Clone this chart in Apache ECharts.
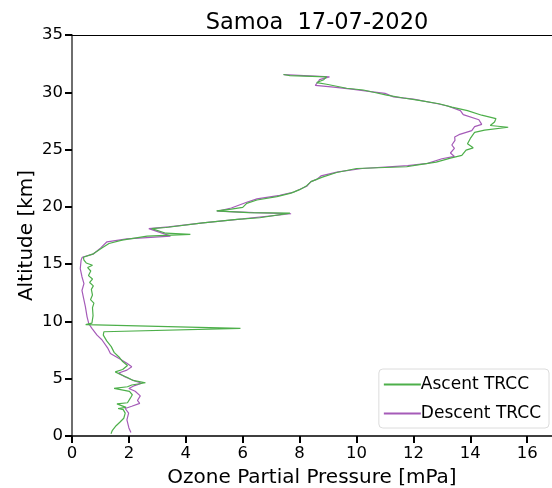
<!DOCTYPE html>
<html><head><meta charset="utf-8">
<script src="https://cdn.jsdelivr.net/npm/echarts@6/dist/echarts.min.js"></script>
<style>html,body{margin:0;padding:0;background:#fff}#c{width:552px;height:488px}</style>
</head><body><div id="c"></div>
<script>
var titleText = 'Samoa  17-07-2020';
var xTicks = [0, 2, 4, 6, 8, 10, 12, 14, 16];
var yTicks = [0, 5, 10, 15, 20, 25, 30, 35];
var seriesNames = ['Ascent TRCC', 'Descent TRCC'];

var ascentOzone = [1.37,1.42,1.55,1.68,1.82,1.87,1.80,1.62,1.90,1.58,1.95,2.05,2.12,2.02,1.48,1.95,2.10,2.58,2.15,1.95,1.72,1.52,1.78,1.95,1.78,1.65,1.48,1.38,1.22,1.10,1.12,5.92,0.48,0.70,0.74,0.72,0.77,0.65,0.72,0.68,0.75,0.62,0.72,0.58,0.66,0.55,0.72,0.50,0.42,0.40,0.75,1.05,1.30,1.76,2.64,4.16,3.30,2.80,3.30,4.60,5.80,6.60,7.66,6.20,5.08,5.60,6.00,6.14,6.50,7.20,7.70,8.00,8.25,8.40,8.80,9.30,10.00,11.76,12.10,12.80,13.30,13.70,13.85,14.10,13.90,14.00,14.15,14.50,15.33,14.70,14.85,14.90,14.40,13.90,13.35,12.90,12.20,11.65,11.06,10.60,10.24,9.65,8.95,8.60,8.85,8.95,7.66,7.43];
var ascentAltitude = [0.2,0.5,0.9,1.2,1.55,2.0,2.3,2.4,2.5,2.8,2.9,3.3,3.6,3.9,4.15,4.3,4.45,4.65,4.85,5.1,5.35,5.6,5.8,6.15,6.5,6.9,7.3,7.8,8.3,8.8,9.1,9.4,9.72,9.85,10.5,11.2,11.6,11.9,12.3,12.8,13.1,13.4,13.7,14.0,14.4,14.7,14.9,15.1,15.35,15.6,15.9,16.4,16.8,17.1,17.45,17.6,17.7,18.1,18.2,18.6,18.9,19.05,19.45,19.5,19.65,19.8,19.95,20.3,20.6,20.9,21.2,21.5,21.85,22.2,22.6,23.0,23.35,23.5,23.65,23.9,24.25,24.5,24.95,25.15,25.5,25.97,26.5,26.7,26.95,27.1,27.4,27.7,28.0,28.4,28.7,29.0,29.3,29.5,29.75,30.0,30.2,30.35,30.7,30.85,31.1,31.35,31.45,31.55];

var descentOzone = [2.07,2.00,1.93,1.99,1.87,2.10,2.38,2.30,2.40,2.22,2.00,2.20,2.46,2.20,1.87,1.64,1.93,2.10,1.93,1.70,1.35,1.25,1.05,0.88,0.70,0.59,0.53,0.47,0.41,0.35,0.42,0.35,0.29,0.32,0.36,0.76,1.00,1.23,1.93,3.46,3.35,2.70,3.40,4.60,6.00,7.70,6.40,5.10,5.60,6.14,6.50,7.30,7.80,8.25,8.40,8.60,8.75,9.35,10.20,11.80,12.50,13.00,13.44,13.30,13.44,13.35,13.46,13.45,13.60,14.05,14.15,14.40,14.30,13.75,13.65,13.20,12.85,12.00,11.30,11.00,10.50,9.90,9.20,8.55,8.65,8.70,9.05,7.44];
var descentAltitude = [0.3,0.7,1.4,2.0,2.4,2.6,2.85,3.1,3.5,3.9,4.15,4.4,4.6,4.8,5.15,5.5,5.75,6.05,6.35,6.7,7.2,7.7,8.4,8.8,9.4,9.8,10.4,11.3,12.0,12.7,13.3,13.9,14.6,15.35,15.6,15.9,16.4,16.95,17.2,17.45,17.55,18.1,18.25,18.6,18.95,19.4,19.5,19.62,19.9,20.4,20.7,21.0,21.3,21.8,22.2,22.4,22.7,23.05,23.35,23.6,23.8,24.2,24.4,24.7,25.1,25.4,25.8,26.1,26.3,26.65,27.0,27.2,27.6,28.05,28.4,28.8,29.0,29.4,29.6,29.9,30.05,30.25,30.45,30.6,30.9,31.1,31.35,31.55];

function pairs(xs, ys) { return xs.map(function (v, i) { return [v, ys[i]]; }); }

var FONT = 'DejaVu Sans';
var chart = echarts.init(document.getElementById('c'), null, { renderer: 'canvas' });
chart.setOption({
  animation: false,
  backgroundColor: '#ffffff',
  title: { text: titleText, left: 312, top: 7, textAlign: 'center',
    textStyle: { fontFamily: FONT, fontSize: 22.5, fontWeight: 'normal', color: '#000' } },
  grid: { left: 72, top: 35, right: 0, bottom: 52, containLabel: false, outerBoundsMode: 'none' },
  legend: {
    data: seriesNames, orient: 'vertical', right: 3, bottom: 60,
    itemWidth: 37, itemHeight: 14, itemGap: 12,
    itemStyle: { opacity: 0 },
    backgroundColor: '#fff', borderColor: '#dcdcdc', borderWidth: 1, borderRadius: 4,
    padding: [7, 8, 6, 4],
    textStyle: { fontFamily: FONT, fontSize: 17, color: '#000', padding: [0, 0, 0, -5] }
  },
  xAxis: [{
    type: 'value', min: 0, max: 16.87, interval: 2,
    name: 'Ozone Partial Pressure [mPa]', nameLocation: 'middle', nameGap: 32, nameMoveOverlap: false,
    nameTextStyle: { fontFamily: FONT, fontSize: 20, color: '#000' },
    axisLine: { show: true, lineStyle: { color: '#000', width: 1.5 } },
    axisTick: { show: true, length: 7, inside: false, customValues: xTicks, lineStyle: { color: '#000', width: 2 } },
    axisLabel: { fontFamily: FONT, fontSize: 16.5, color: '#000', margin: 9, customValues: xTicks },
    splitLine: { show: false }
  }, {
    type: 'value', position: 'top', min: 0, max: 16.87,
    axisLine: { show: true, lineStyle: { color: '#000', width: 1.2 } },
    axisTick: { show: false }, axisLabel: { show: false }, splitLine: { show: false }
  }],
  yAxis: {
    type: 'value', min: 0, max: 35, interval: 5,
    name: 'Altitude [km]', nameLocation: 'middle', nameGap: 35, nameMoveOverlap: false,
    nameTextStyle: { fontFamily: FONT, fontSize: 20, color: '#000' },
    axisLine: { show: true, lineStyle: { color: '#6e6e6e', width: 2 } },
    axisTick: { show: true, length: 7, inside: false, customValues: yTicks, lineStyle: { color: '#000', width: 2 } },
    axisLabel: { fontFamily: FONT, fontSize: 16.5, color: '#000', margin: 9, customValues: yTicks },
    splitLine: { show: false }
  },
  series: [{
    name: seriesNames[0], type: 'line', symbol: 'none', showSymbol: false,
    data: pairs(ascentOzone, ascentAltitude),
    lineStyle: { color: '#4daf4a', width: 1.2 }, itemStyle: { color: '#4daf4a' }, z: 3
  }, {
    name: seriesNames[1], type: 'line', symbol: 'none', showSymbol: false,
    data: pairs(descentOzone, descentAltitude),
    lineStyle: { color: '#a55bb8', width: 1.2 }, itemStyle: { color: '#a55bb8' }, z: 2
  }]
});
</script></body></html>
